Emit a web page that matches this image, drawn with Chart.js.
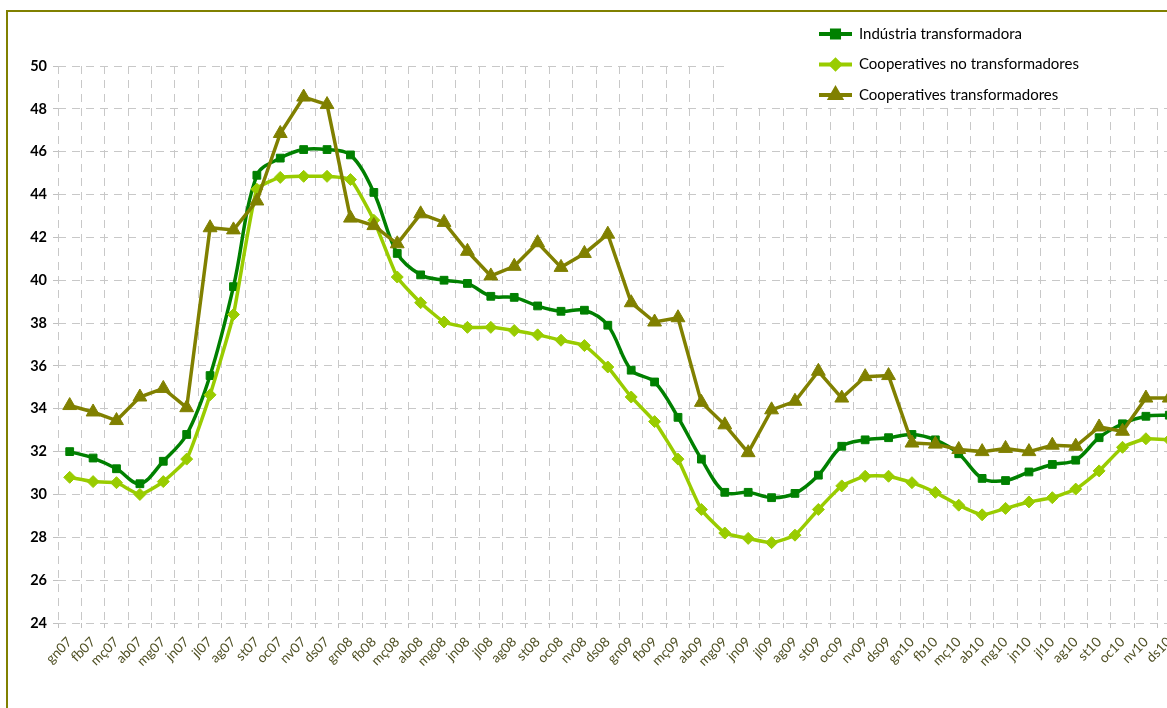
<!DOCTYPE html>
<html>
<head>
<meta charset="utf-8">
<script src="https://cdn.jsdelivr.net/npm/chart.js@4.4.0/dist/chart.umd.min.js"></script>
<style>
    html, body { margin: 0; padding: 0; background: #ffffff; overflow: hidden; width: 1167px; height: 708px; }
    #frame { position: absolute; left: 6px; top: 10px; width: 1300px; height: 800px; border: 2px solid #808000; box-sizing: border-box; }
    #wrap { position: absolute; left: 0; top: 0; width: 1200px; height: 708px; }
</style>
</head>
<body>
<div id="frame"></div>
<div id="wrap"><canvas id="chart"></canvas></div>
<script>
// Months (Catalan abbreviations), Jan 2007 - Dec 2010
const months = ['gn07','fb07','mç07','ab07','mg07','jn07','jl07','ag07','st07','oc07','nv07','ds07',
                'gn08','fb08','mç08','ab08','mg08','jn08','jl08','ag08','st08','oc08','nv08','ds08',
                'gn09','fb09','mç09','ab09','mg09','jn09','jl09','ag09','st09','oc09','nv09','ds09',
                'gn10','fb10','mç10','ab10','mg10','jn10','jl10','ag10','st10','oc10','nv10','ds10'];

const seriesNames = ['Indústria transformadora', 'Cooperatives no transformadores', 'Cooperatives transformadores'];

const industria = [32.0, 31.7, 31.2, 30.5, 31.55, 32.8, 35.55, 39.7, 44.9, 45.7, 46.1, 46.1,
                   45.85, 44.1, 41.25, 40.25, 40.0, 39.85, 39.25, 39.2, 38.8, 38.55, 38.6, 37.9,
                   35.8, 35.25, 33.6, 31.65, 30.1, 30.1, 29.85, 30.05, 30.9, 32.25, 32.55, 32.65,
                   32.8, 32.55, 31.9, 30.75, 30.65, 31.05, 31.4, 31.6, 32.65, 33.3, 33.65, 33.7];

const coopNoTransf = [30.8, 30.6, 30.55, 30.0, 30.6, 31.65, 34.65, 38.4, 44.25, 44.8, 44.85, 44.85,
                      44.7, 42.8, 40.15, 38.95, 38.05, 37.8, 37.8, 37.65, 37.45, 37.2, 36.95, 35.95,
                      34.55, 33.4, 31.65, 29.3, 28.2, 27.95, 27.75, 28.1, 29.3, 30.4, 30.85, 30.85,
                      30.55, 30.1, 29.5, 29.05, 29.35, 29.65, 29.85, 30.25, 31.1, 32.2, 32.6, 32.55];

const coopTransf = [34.15, 33.85, 33.45, 34.55, 34.95, 34.05, 42.45, 42.35, 43.7, 46.85, 48.55, 48.2,
                    42.9, 42.55, 41.7, 43.1, 42.7, 41.35, 40.2, 40.65, 41.75, 40.6, 41.25, 42.15,
                    38.95, 38.05, 38.25, 34.3, 33.25, 31.95, 33.95, 34.35, 35.75, 34.5, 35.5, 35.55,
                    32.4, 32.35, 32.1, 32.0, 32.15, 32.0, 32.3, 32.25, 33.15, 32.95, 34.5, 34.5];

const yMin = 24, yMax = 50, yStep = 2;

// Legend drawn inside the plot, on a white patch (like the Excel original)
const insideLegend = {
    id: 'insideLegend',
    afterDraw(chart) {
        const ctx = chart.ctx;
        ctx.save();
        ctx.fillStyle = '#ffffff';
        ctx.fillRect(728, 12, 480, 96);
        chart.data.datasets.forEach((ds, i) => {
            const y = 34 + i * 30.5;
            ctx.strokeStyle = ds.borderColor;
            ctx.lineWidth = 4;
            ctx.beginPath();
            ctx.moveTo(819, y);
            ctx.lineTo(852, y);
            ctx.stroke();
            ctx.fillStyle = ds.pointBackgroundColor;
            ctx.strokeStyle = ds.pointBorderColor;
            Chart.helpers.drawPoint(ctx, {
                pointStyle: ds.pointStyle,
                radius: ds.legendRadius,
                rotation: 0,
                borderWidth: 1
            }, 835.5, y);
            ctx.fillStyle = '#000000';
            ctx.font = '15px Lato';
            ctx.textBaseline = 'middle';
            ctx.textAlign = 'left';
            ctx.fillText(ds.label, 859, y);
        });
        ctx.restore();
    }
};

new Chart(document.getElementById('chart'), {
    type: 'line',
    data: {
        labels: months,
        datasets: [
            {
                label: seriesNames[0],
                data: industria,
                borderColor: '#008000',
                backgroundColor: '#008000',
                pointBackgroundColor: '#008000',
                pointBorderColor: '#008000',
                borderWidth: 3.5,
                pointStyle: 'rect',
                pointRadius: 5.5,
                pointBorderWidth: 1,
                legendRadius: 5,
                tension: 0.35,
                order: 3
            },
            {
                label: seriesNames[1],
                data: coopNoTransf,
                borderColor: '#99CC00',
                backgroundColor: '#99CC00',
                pointBackgroundColor: '#99CC00',
                pointBorderColor: '#99CC00',
                borderWidth: 3.5,
                pointStyle: 'rectRot',
                pointRadius: 6,
                pointBorderWidth: 1,
                legendRadius: 4.5,
                tension: 0.15,
                order: 2
            },
            {
                label: seriesNames[2],
                data: coopTransf,
                borderColor: '#808000',
                backgroundColor: '#808000',
                pointBackgroundColor: '#808000',
                pointBorderColor: '#808000',
                borderWidth: 3.5,
                pointStyle: 'triangle',
                pointRadius: 8,
                pointBorderWidth: 1,
                legendRadius: 6,
                tension: 0,
                order: 1
            }
        ]
    },
    plugins: [insideLegend],
    options: {
        responsive: true,
        maintainAspectRatio: false,
        animation: false,
        layout: {
            padding: { left: 0, top: 66, right: 19, bottom: 0 }
        },
        scales: {
            x: {
                type: 'category',
                offset: true,
                afterFit: (scale) => { scale.height = 85; },
                grid: {
                    offset: true,
                    color: '#C8C8C8',
                    lineWidth: 1,
                    tickLength: 5,
                    tickColor: '#C0C0C0'
                },
                border: { display: false, dash: [8, 6] },
                ticks: {
                    autoSkip: false,
                    maxRotation: 45,
                    minRotation: 45,
                    padding: 6,
                    color: '#4F4F23',
                    font: { family: 'Lato', size: 13.5 }
                }
            },
            y: {
                min: yMin,
                max: yMax,
                afterFit: (scale) => { scale.width = 58; },
                grid: {
                    color: '#C8C8C8',
                    lineWidth: 1,
                    tickLength: 5,
                    tickColor: '#C0C0C0'
                },
                border: { display: false, dash: [8, 6] },
                ticks: {
                    stepSize: yStep,
                    padding: 6,
                    color: '#000000',
                    font: { family: 'Lato', size: 14.5, weight: 'bold' }
                }
            }
        },
        plugins: {
            legend: { display: false },
            title: { display: false },
            tooltip: { enabled: false }
        }
    }
});
</script>
</body>
</html>
